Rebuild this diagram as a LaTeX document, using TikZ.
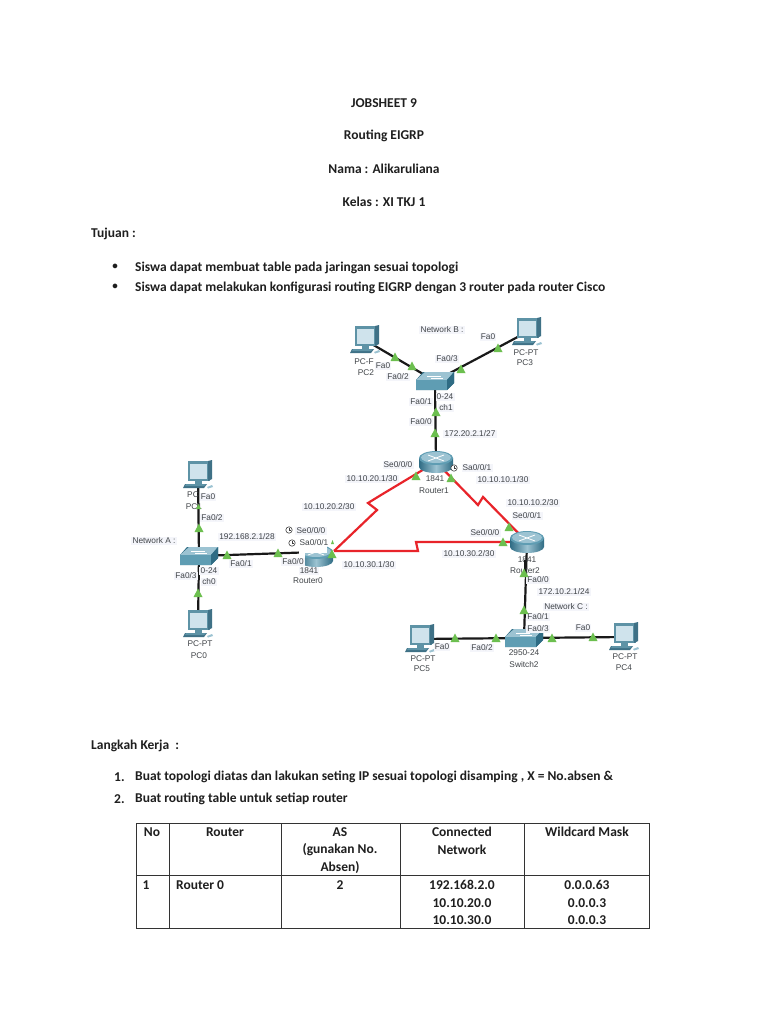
\documentclass[tikz,border=0pt]{standalone}
\usepackage{fontspec}
\setmainfont{Carlito}
\newfontfamily\netfont{Liberation Sans}
\definecolor{lblbg}{HTML}{F4F5FA}
\definecolor{lblink}{HTML}{404448}
\definecolor{lnkgreen}{HTML}{6CBF4F}
\definecolor{serialred}{HTML}{E8242A}
\definecolor{pcbody}{HTML}{5E93A6}
\definecolor{pcdark}{HTML}{3F7186}
\definecolor{pcscreen}{HTML}{CFE3EC}
\definecolor{devtop}{HTML}{9CC3D2}
\definecolor{devmid}{HTML}{5F9DB3}
\definecolor{devdark}{HTML}{2F6C84}
\tikzset{
  doc/.style={font=\fontsize{13.5}{16}\selectfont\bfseries,text=black!88,inner sep=0pt,yshift=-1pt},
  docl/.style={doc,anchor=west},
  bul/.style={font=\fontsize{11}{13}\selectfont\bfseries,text=black!88,inner sep=0pt},
  cell/.style={font=\fontsize{13.5}{16}\selectfont\bfseries,text=black!88,inner sep=0pt,yshift=-1pt},
  grid/.style={draw=black!80,line width=0.9pt},
  anch/.style={inner sep=0pt,minimum size=1pt},
  lbl/.style={font=\netfont\fontsize{8.3}{10}\selectfont,text=lblink,fill=lblbg,inner sep=1.2pt},
  lbn/.style={font=\netfont\fontsize{8.3}{10}\selectfont,text=lblink,inner sep=0pt},
  eth/.style={draw=black!90,line width=2.2pt},
  ser/.style={draw=serialred,line width=2.2pt,line join=miter},
  lite/.style={fill=lnkgreen},
  pc/.pic={
    \fill[pcbody] (-10,-14) -- (12,-14) -- (12,6) -- (-10,6) -- cycle;
    \fill[pcdark] (10,-14) -- (14,-15) -- (14,4) -- (10,6) -- cycle;
    \fill[pcscreen] (-8,-11.5) rectangle (9,3.5);
    \fill[pcbody] (-3,6) rectangle (4,9);
    \fill[pcdark] (-13,9) -- (9,9) -- (6,13) -- (-15,13) -- cycle;
    \fill[pcbody] (-12,9) -- (8,9) -- (6,11) -- (-13,11) -- cycle;
    \fill[devtop] (9,12) -- (14,10) -- (15,12) -- (10,13.5) -- cycle;
  },
  switchdev/.pic={
    \fill[devdark] (-19,-1) -- (-12,-9) -- (19,-9) -- (19,2) -- (12,9) -- (-19,9) -- cycle;
    \fill[devtop] (-19,-1) -- (-10,-9) -- (19,-9) -- (12,-1) -- cycle;
    \fill[devmid] (-19,-1) rectangle (12,9);
    \fill[devdark] (12,-1) -- (19,-9) -- (19,2) -- (12,9) -- cycle;
    \draw[white,line width=0.5pt] (-8,-5) -- (6,-5) (-4,-3) -- (8,-3);
  },
  routerdev/.pic={
    \shade[left color=devdark,right color=devdark,middle color=devtop]
      (-17,-4) -- (-17,5) arc[start angle=180,end angle=0,x radius=17,y radius=6] -- (17,-4) -- cycle;
    \fill[devmid] (0,-4) ellipse[x radius=17,y radius=7];
    \fill[devtop] (0,-4.5) ellipse[x radius=15,y radius=5.5];
    \draw[white,line width=0.8pt] (-8,-7) -- (8,-1) (-8,-1) -- (8,-7);
  },
  clockmark/.pic={
    \draw[black!75,line width=0.6pt,fill=white] (0,0) circle[radius=3.2];
    \draw[black!75,line width=0.6pt] (0,-2.2) -- (0,0) -- (1.8,0);
  },
}
\newcommand{\lnk}[2]{\fill[lite] (#1-4.5,#2+4) -- (#1,#2-4.5) -- (#1+4.5,#2+4) -- cycle;}
\begin{document}
\begin{tikzpicture}[x=1pt,y=-1pt]
\useasboundingbox (0,0) rectangle (768,1024);
\fill[white] (0,0) rectangle (768,1024);
% heading
\node[doc] (t1) at (384,102) {JOBSHEET 9};
\node[doc] (t2) at (384,135) {Routing EIGRP};
\node[doc] (t3) at (384,168) {Nama : Alikaruliana};
\node[doc] (t4) at (384,201) {Kelas : XI TKJ 1};
\node[docl] (t5) at (91,233) {Tujuan :};
\node[bul] (b1) at (115,267) {•};
\node[docl] (t6) at (135,267) {Siswa dapat membuat table pada jaringan sesuai topologi};
\node[bul] (b2) at (115,287) {•};
\node[docl] (t7) at (135,287) {Siswa dapat melakukan konfigurasi routing EIGRP dengan 3 router pada router Cisco};
\node[docl] (t8) at (91,745) {Langkah Kerja\ \ :};
\node[docl] (n1) at (114,776) {1.};
\node[docl] (t9) at (135,776) {Buat topologi diatas dan lakukan seting IP sesuai topologi disamping , X = No.absen \&};
\node[docl] (n2) at (114,798) {2.};
\node[docl] (t10) at (135,798) {Buat routing table untuk setiap router};
% device anchors
\foreach \n/\x/\y in {pc2/365/340,pc3/527/332,sw1/435/381,r1/436/462,pc1/198/475,sw0/199/556,pc0/198/624,r0/316/552,r2/527/542,sw2/524/638,pc5/420/639,pc4/624/637}
  \node[anch] (\n) at (\x,\y) {};
\coordinate (z1a) at (381,495);
\coordinate (z1b) at (368,503);
\coordinate (z1c) at (377,510);
\coordinate (z2a) at (478,505);
\coordinate (z2b) at (483,497);
\coordinate (z3a) at (418,551);
\coordinate (z3b) at (416,542);
\coordinate (r0e) at (334,551);
% links
\draw[eth] (pc2.center) -- (sw1.center);
\draw[eth] (pc3.center) -- (sw1.center);
\draw[eth] (sw1.center) -- (r1.center);
\draw[eth] (sw0.center) -- (pc1.center);
\draw[eth] (sw0.center) -- (pc0.center);
\draw[eth] (sw0.center) -- (r0.center);
\draw[eth] (r2.center) -- (sw2.center);
\draw[eth] (sw2.center) -- (pc5.center);
\draw[eth] (sw2.center) -- (pc4.center);
\draw[ser] (r1.center) -- (z1a) -- (z1b) -- (z1c) -- (r0e);
\draw[ser] (r1.center) -- (z2a) -- (z2b) -- (r2.center);
\draw[ser] (r0e) -- (z3a) -- (z3b) -- (r2.center);
% devices
\foreach \n in {pc2,pc3,pc1,pc0,pc5,pc4} \pic at (\n) {pc};
\foreach \n in {sw1,sw0,sw2} \pic at (\n) {switchdev};
\foreach \n in {r1,r2} \pic at (\n) {routerdev};
\pic[yshift=-4pt] at (r0) {routerdev};
\fill[white] (299,544) rectangle (327,553);
\fill[white] (299,553) rectangle (305,570);
% labels with background
\node[lbl] (l1) at (442,330) {Network B :};
\node[lbl] (l2) at (488,337) {Fa0};
\node[lbn] (l3) at (526,353) {PC-PT};
\node[lbn] (l4) at (525,363) {PC3};
\node[lbn] (l5) at (364,362) {PC-F};
\node[lbn] (l6) at (366,373) {PC2};
\node[lbl] (l7) at (383,366) {Fa0};
\node[lbl] (l8) at (398,377) {Fa0/2};
\node[lbl] (l9) at (447,359) {Fa0/3};
\node[lbl] (l10) at (421,402) {Fa0/1};
\node[lbl] (l11) at (445,397) {0-24};
\node[lbl] (l12) at (446,408) {ch1};
\node[lbl] (l13) at (421,422) {Fa0/0};
\node[lbl] (l14) at (470,434) {172.20.2.1/27};
\node[lbl] (l15) at (398,465) {Se0/0/0};
\node[lbl] (l16) at (477,468) {Sa0/0/1};
\node[lbl] (l17) at (372,479) {10.10.20.1/30};
\node[lbn] (l18) at (435,479) {1841};
\node[lbn] (l19) at (434,491) {Router1};
\node[lbl] (l20) at (503,480) {10.10.10.1/30};
\node[lbl] (l21) at (533,503) {10.10.10.2/30};
\node[lbl] (l22) at (527,516) {Se0/0/1};
\node[lbl] (l23) at (485,533) {Se0/0/0};
\node[lbl] (l24) at (469,554) {10.10.30.2/30};
\node[lbn] (l25) at (527,560) {1841};
\node[lbl] (l27) at (538,580) {Fa0/0};
\node[lbl] (l28) at (564,592) {172.10.2.1/24};
\node[lbl] (l29) at (566,607) {Network C :};
\node[lbl] (l30) at (538,617) {Fa0/1};
\node[lbl] (l31) at (538,629) {Fa0/3};
\node[lbl] (l32) at (583,628) {Fa0};
\node[lbl] (l33) at (442,647) {Fa0};
\node[lbl] (l34) at (482,648) {Fa0/2};
\node[lbn] (l35) at (524,653) {2950-24};
\node[lbn] (l36) at (524,665) {Switch2};
\node[lbn] (l37) at (423,659) {PC-PT};
\node[lbn] (l38) at (422,669) {PC5};
\node[lbn] (l39) at (625,657) {PC-PT};
\node[lbn] (l40) at (624,668) {PC4};
\node[lbn] (l41) at (193,495) {PC};
\node[lbl] (l42) at (208,497) {Fa0};
\node[lbl] (l43) at (212,518) {Fa0/2};
\node[lbn] (l44) at (194,507) {PC1};
\node[lbl] (l45) at (154,541) {Network A :};
\node[lbl] (l46) at (247,537) {192.168.2.1/28};
\node[lbl] (l47) at (311,531) {Se0/0/0};
\node[lbn] (l48) at (314,543) {Sa0/0/1};
\node[lbl] (l49) at (329,507) {10.10.20.2/30};
\node[lbl] (l50) at (241,564) {Fa0/1};
\node[lbl] (l51) at (293,562) {Fa0/0};
\node[lbl] (l52) at (369,565) {10.10.30.1/30};
\node[lbl] (l53) at (309,571) {1841};
\node[lbn] (l54) at (308,581) {Router0};
\node[lbl] (l55) at (186,576) {Fa0/3};
\node[lbl] (l56) at (209,571) {0-24};
\node[lbl] (l57) at (209,582) {ch0};
\node[lbn] (l58) at (200,644) {PC-PT};
\node[lbn] (l59) at (199,656) {PC0};
\pic at (289,530) {clockmark};
\pic at (292,543) {clockmark};
\pic at (454,468) {clockmark};
% Router2 name lies under the link
\node[lbn] (l26) at (525,571) {Router2};
\draw[eth,line width=1.6pt] (r2.center) ++(-2,18) -- ++(0,16);
% link lights
\lnk{395}{357}\lnk{412}{366}\lnk{461}{369}\lnk{498}{348}\lnk{436}{412}\lnk{435}{433}\lnk{416}{476}\lnk{451}{478}
\lnk{199}{528}\lnk{227}{555}\lnk{278}{553}\lnk{332}{554}\lnk{198}{593}
\lnk{509}{527}\lnk{503}{542}\lnk{524}{573}\lnk{524}{610}\lnk{455}{638}\lnk{496}{638}\lnk{552}{638}\lnk{593}{637}
\fill[lite] (196,509) -- (198.5,504) -- (201,509) -- cycle;
\fill[lite] (331,544) -- (332.5,540) -- (334,544) -- cycle;
% table
\draw[grid] (136,823) rectangle (649,928);
\draw[grid] (136,875) -- (649,875);
\foreach \x in {169,281,400,524} \draw[grid] (\x,823) -- (\x,928);
\node[cell] (c1) at (152,831) {No};
\node[cell] (c2) at (225,831) {Router};
\node[cell] (c3) at (340,831) {AS};
\node[cell] (c4) at (340,849) {(gunakan No.};
\node[cell] (c5) at (340,867) {Absen)};
\node[cell] (c6) at (462,831) {Connected};
\node[cell] (c7) at (462,849) {Network};
\node[cell] (c8) at (587,831) {Wildcard Mask};
\node[cell] (c9) at (146,884) {1};
\node[cell,anchor=west] (c10) at (176,884) {Router 0};
\node[cell] (c11) at (340,884) {2};
\node[cell] (c12) at (462,884) {192.168.2.0};
\node[cell] (c13) at (462,902) {10.10.20.0};
\node[cell] (c14) at (462,919) {10.10.30.0};
\node[cell] (c15) at (587,884) {0.0.0.63};
\node[cell] (c16) at (587,902) {0.0.0.3};
\node[cell] (c17) at (587,919) {0.0.0.3};
\end{tikzpicture}
\end{document}
